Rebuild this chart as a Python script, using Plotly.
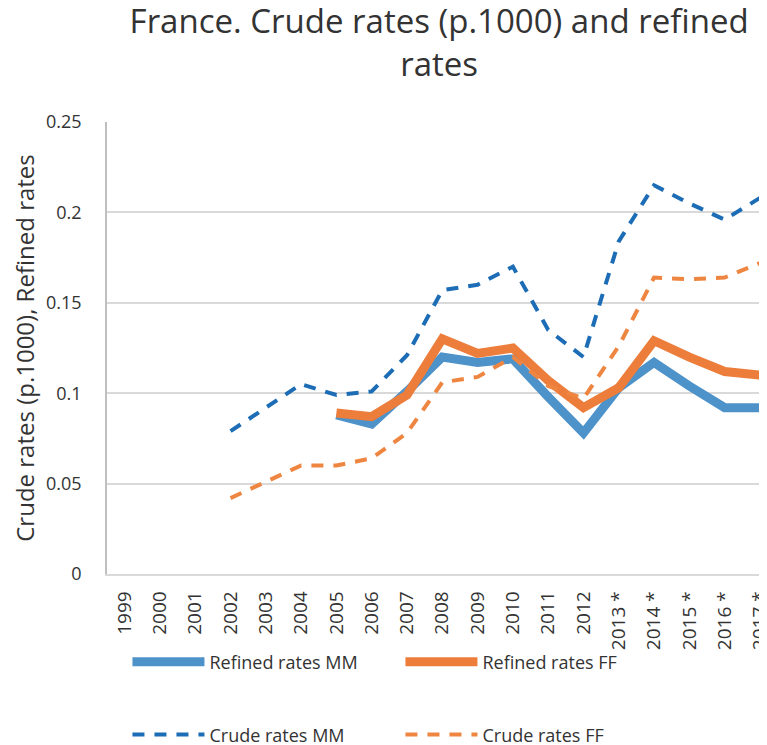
import plotly.graph_objects as go

years = ["1999", "2000", "2001", "2002", "2003", "2004", "2005", "2006", "2007",
         "2008", "2009", "2010", "2011", "2012", "2013 *", "2014 *", "2015 *",
         "2016 *", "2017 *"]

refined_mm = [None, None, None, None, None, None, 0.088, 0.083, 0.101, 0.120, 0.117,
              0.119, 0.098, 0.078, 0.103, 0.117, 0.104, 0.092, 0.092]
refined_ff = [None, None, None, None, None, None, 0.089, 0.087, 0.099, 0.130, 0.122,
              0.125, 0.107, 0.092, 0.103, 0.129, 0.120, 0.112, 0.110]
crude_mm = [None, None, None, 0.079, 0.092, 0.105, 0.099, 0.101, 0.121, 0.157, 0.160,
            0.170, 0.135, 0.120, 0.184, 0.215, 0.205, 0.196, 0.208]
crude_ff = [None, None, None, 0.042, 0.051, 0.060, 0.060, 0.064, 0.078, 0.106, 0.109,
            0.120, 0.104, 0.097, 0.126, 0.164, 0.163, 0.164, 0.172]

FONT = "Open Sans"
TXT = "#333333"

fig = go.Figure()
fig.add_trace(go.Scatter(x=years, y=refined_mm, mode="lines", name="Refined rates MM",
                         line=dict(color="#4E92CA", width=9), legend="legend"))
fig.add_trace(go.Scatter(x=years, y=refined_ff, mode="lines", name="Refined rates FF",
                         line=dict(color="#EC7D3B", width=9), legend="legend"))
fig.add_trace(go.Scatter(x=years, y=crude_mm, mode="lines", name="Crude rates MM",
                         line=dict(color="#1C6DB5", width=4, dash="12px,10px"), legend="legend2"))
fig.add_trace(go.Scatter(x=years, y=crude_ff, mode="lines", name="Crude rates FF",
                         line=dict(color="#EE8642", width=4, dash="12px,10px"), legend="legend2"))

legend_common = dict(orientation="h", xanchor="left", yanchor="middle",
                     entrywidth=186, entrywidthmode="pixels",
                     font=dict(family=FONT, size=18, color=TXT),
                     bgcolor="rgba(0,0,0,0)", itemwidth=72)

fig.update_layout(
    width=759, height=737,
    margin=dict(l=99, r=0, t=114, b=171, autoexpand=False),
    paper_bgcolor="white", plot_bgcolor="white",
    title=dict(text="France. Crude rates (p.1000) and refined<br>rates",
               font=dict(family=FONT, size=33, color=TXT),
               x=0.568, xanchor="center", xref="container",
               y=0.9665, yanchor="middle", yref="container"),
    xaxis=dict(type="category", categoryorder="array", categoryarray=years,
               range=[-0.5, 18.2], tickangle=-90, automargin=False,
               tickfont=dict(family=FONT, size=19, color=TXT),
               showgrid=False, showline=True, linecolor="#D9D9D9", linewidth=1.5,
               ticks="outside", ticklen=8, tickcolor="rgba(0,0,0,0)", fixedrange=True),
    yaxis=dict(range=[0, 0.25], tickvals=[0, 0.05, 0.1, 0.15, 0.2, 0.25],
               ticktext=["0", "0.05", "0.1", "0.15", "0.2", "0.25"],
               tickfont=dict(family=FONT, size=18, color=TXT), automargin=False,
               showgrid=True, gridcolor="#D9D9D9", gridwidth=1.5,
               showline=True, linecolor="#BFBFBF", linewidth=1.5,
               zeroline=False, ticks="outside", ticklen=20, tickcolor="rgba(0,0,0,0)",
               title=dict(text="Crude rates (p.1000), Refined rates",
                          font=dict(family=FONT, size=24, color=TXT), standoff=16)),
    legend=dict(x=0.031, y=-0.195, **legend_common),
    legend2=dict(x=0.031, y=-0.356, **legend_common),
    showlegend=True,
)

fig.write_html("out.html")
